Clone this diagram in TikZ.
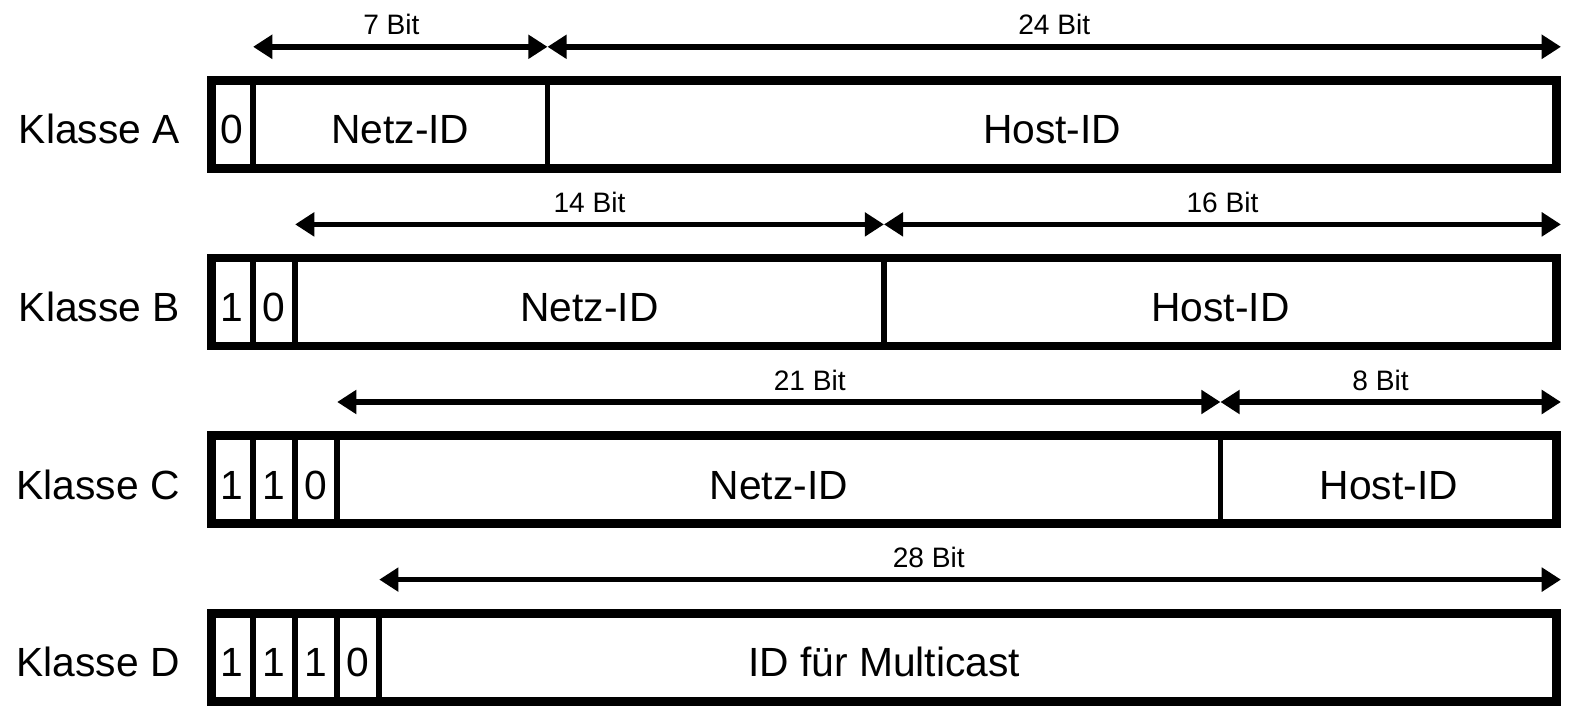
\documentclass[tikz,border=0pt]{standalone}
\usepackage{fontspec}
\setmainfont{Liberation Sans}
\usetikzlibrary{arrows.meta,positioning,fit,calc}

\begin{document}
\begin{tikzpicture}[
    >={Triangle[length=0.48cm,width=0.58cm]},
    bit/.style={
        draw,
        line width=4.2pt,
        inner sep=0pt,
        outer sep=0pt,
        minimum width=1.0515cm,
        minimum height=2.2cm,
        text height=0.97cm,
        text depth=0pt,
        font=\fontsize{29}{32}\selectfont
    },
    field/.style={
        bit,
        minimum width=#1*1.0515cm
    },
    outline/.style={
        draw,
        line width=6.4pt,
        inner sep=0pt
    },
    cls/.style={
        inner sep=0pt,
        text height=0.97cm,
        text depth=0pt,
        font=\fontsize{29}{32}\selectfont
    },
    dim/.style={
        <->,
        line width=4pt
    },
    lab/.style={
        font=\fontsize{20}{22}\selectfont,
        above=0.22cm,
        inner sep=0pt
    }
]

\useasboundingbox (0,0) rectangle (39.25,-17.675);

% Klasse A --- 0 | 7 bit net | 24 bit host
\node[bit] (a0) at (5.801,-3.11) {0};
\node[field=7, right=0pt of a0] (anetz) {Netz-ID};
\node[field=24, right=0pt of anetz] (ahost) {Host-ID};
\node[outline, fit=(a0)(ahost)] (fa) {};
\node[cls, left=0.775cm of a0] (ka) {Klasse A};

\draw[dim]
    ($(a0.north east)+(0,0.84)$)
    --
    node[lab, pos=0.47] {7 Bit}
    ($(anetz.north east)+(0,0.84)$);

\draw[dim]
    ($(anetz.north east)+(0,0.84)$)
    --
    node[lab] {24 Bit}
    ($(ahost.north east)+(0.1,0.84)$);


% Klasse B --- 10 | 14 bit net | 16 bit host
\node[bit] (b1) at (5.801,-7.55) {1};
\node[bit, right=0pt of b1] (b0) {0};
\node[field=14, right=0pt of b0] (bnetz) {Netz-ID};
\node[field=16, right=0pt of bnetz] (bhost) {Host-ID};
\node[outline, fit=(b1)(bhost)] (fb) {};
\node[cls, left=0.775cm of b1] (kb) {Klasse B};

\draw[dim]
    ($(b0.north east)+(0,0.84)$)
    --
    node[lab] {14 Bit}
    ($(bnetz.north east)+(0,0.84)$);

\draw[dim]
    ($(bnetz.north east)+(0,0.84)$)
    --
    node[lab] {16 Bit}
    ($(bhost.north east)+(0.1,0.84)$);


% Klasse C --- 110 | 21 bit net | 8 bit host
\node[bit] (c1) at (5.801,-11.99) {1};
\node[bit, right=0pt of c1] (c2) {1};
\node[bit, right=0pt of c2] (c0) {0};
\node[field=21, right=0pt of c0] (cnetz) {Netz-ID};
\node[field=8, right=0pt of cnetz] (chost) {Host-ID};
\node[outline, fit=(c1)(chost)] (fc) {};
\node[cls, left=0.775cm of c1] (kc) {Klasse C};

\draw[dim]
    ($(c0.north east)+(0,0.84)$)
    --
    node[lab, pos=0.535] {21 Bit}
    ($(cnetz.north east)+(0,0.84)$);

\draw[dim]
    ($(cnetz.north east)+(0,0.84)$)
    --
    node[lab, pos=0.47] {8 Bit}
    ($(chost.north east)+(0.1,0.84)$);


% Klasse D --- 1110 | 28 bit multicast group
\node[bit] (d1) at (5.801,-16.43) {1};
\node[bit, right=0pt of d1] (d2) {1};
\node[bit, right=0pt of d2] (d3) {1};
\node[bit, right=0pt of d3] (d0) {0};
\node[field=28, right=0pt of d0,
      label={[cls, xshift=-2.1cm]center:ID für Multicast}] (dmc) {};
\node[outline, fit=(d1)(dmc)] (fd) {};
\node[cls, left=0.775cm of d1] (kd) {Klasse D};

\draw[dim]
    ($(d0.north east)+(0,0.84)$)
    --
    node[lab, pos=0.465] {28 Bit}
    ($(dmc.north east)+(0.1,0.84)$);

\end{tikzpicture}
\end{document}
